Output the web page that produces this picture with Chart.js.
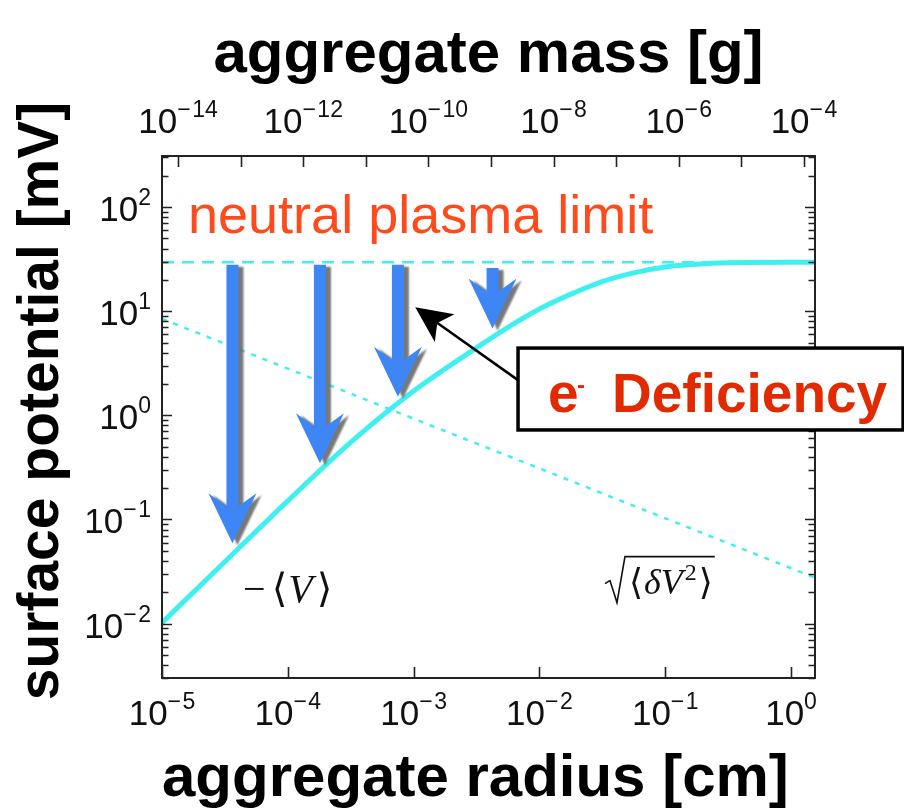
<!DOCTYPE html>
<html><head><meta charset="utf-8">
<script src="https://cdn.jsdelivr.net/npm/chart.js@4.4.1/dist/chart.umd.min.js"></script>
<style>html,body{margin:0;padding:0;background:#fff;}canvas{display:block;}</style>
</head><body>
<canvas id="c" width="904" height="812"></canvas>
<script>
// ---------- data ----------
const curveRadius = [1e-5, 3.16e-5, 1e-4, 3.16e-4, 1e-3, 3.16e-3, 5.62e-3, 1e-2, 1.78e-2, 3.16e-2, 5.62e-2, 1e-1, 1.78e-1, 3.16e-1, 1, 1.55];
const curveMeanV  = [0.0102, 0.0393, 0.151, 0.55, 1.71, 4.45, 7.0, 10.5, 14.6, 19.3, 23.4, 26.6, 28.3, 29.2, 29.5, 29.5];
const fluctRadius = [1e-5, 1e-4, 1e-3, 1e-2, 1e-1, 1, 1.55];
const fluctV      = [8.45, 2.81, 0.93, 0.309, 0.1026, 0.034, 0.0275];
const limitRadius = [1e-5, 1.55];
const limitV      = [29.5, 29.5];
const arrowRadius = [3.63e-5, 1.80e-4, 7.5e-4, 4.24e-3];
const arrowFromV  = [28, 28, 28, 26];
const arrowToV    = [0.059, 0.347, 1.51, 6.84];
const radiusTicks    = [1e-5, 1e-4, 1e-3, 1e-2, 1e-1, 1];
const potentialTicks = [1e-2, 1e-1, 1, 10, 100];
const massTicks      = [1e-14, 1e-13, 1e-12, 1e-11, 1e-10, 1e-9, 1e-8, 1e-7, 1e-6, 1e-5, 1e-4];
const radiusRange    = [1e-5, 1.55];
const potentialRange = [0.003, 310];
const massRange      = [5.55e-15, 1.5e-4];

const FONT = "'Liberation Sans', Arial, Helvetica, sans-serif";
const SERIF = "'Liberation Serif', 'DejaVu Serif', 'Times New Roman', serif";
const CYAN = '#40F0F0';
const BLUE = '#3E86F5';

const expOf = v => Math.round(Math.log10(v));
const expText = v => String(expOf(v)).replace('-', '\u2212');
const toXY = (xs, ys) => xs.map((x, i) => ({x, y: ys[i]}));

// annotation anchors (data coordinates)
const ANN = {
  limitText: {r: 1.61e-5, v: 56.1},
  meanText: {r: 4.41e-5, v: 0.01626},
  fluctText: {r: 0.0338, v: 0.0194},
  box: {r0: 6.76e-3, r1: 7.77, v0: 4.43, v1: 0.724},
  pointerTail: {r: 6.76e-3, v: 2.18},
  pointerTip: {r: 1.03e-3, v: 10.9}
};

// draws "10" with a raised exponent; align: 'center' | 'right'
function drawPow(ctx, v, ax, baseline, align) {
  const et = expText(v);
  ctx.font = '35px ' + FONT;
  const wb = ctx.measureText('10').width;
  ctx.font = '23px ' + FONT;
  const gap = et.length > 1 ? 1.5 : 0;
  const we = ctx.measureText(et).width + gap;
  const w = wb + we;
  const x0 = align === 'right' ? ax - w : ax - w / 2;
  ctx.textAlign = 'left'; ctx.textBaseline = 'alphabetic';
  ctx.font = '35px ' + FONT;
  ctx.fillText('10', x0, baseline);
  ctx.font = '23px ' + FONT;
  if (et.length > 1 && et[0] === '\u2212') {
    ctx.fillText('\u2212', x0 + wb, baseline - 16);
    ctx.fillText(et.slice(1), x0 + wb + ctx.measureText('\u2212').width + gap, baseline - 16);
  } else {
    ctx.fillText(et, x0 + wb, baseline - 16);
  }
}

const arrowsPlugin = {
  id: 'arrows',
  afterDatasetsDraw(chart) {
    const {ctx, scales: {x, y}} = chart;
    ctx.save();
    ctx.fillStyle = BLUE;
    ctx.shadowColor = 'rgba(105,105,105,0.9)';
    ctx.shadowOffsetX = 5; ctx.shadowOffsetY = 2; ctx.shadowBlur = 2;
    arrowRadius.forEach((r, i) => {
      const px = x.getPixelForValue(r);
      const y0 = y.getPixelForValue(arrowFromV[i]);
      const y1 = y.getPixelForValue(arrowToV[i]);
      const hw = 6, bw = 24, hl = 50, nl = 37;
      ctx.beginPath();
      ctx.moveTo(px - hw, y0); ctx.lineTo(px + hw, y0);
      ctx.lineTo(px + hw, y1 - nl); ctx.lineTo(px + bw, y1 - hl);
      ctx.lineTo(px, y1); ctx.lineTo(px - bw, y1 - hl);
      ctx.lineTo(px - hw, y1 - nl); ctx.closePath(); ctx.fill();
    });
    ctx.restore();
  }
};

const framePlugin = {
  id: 'frame',
  afterDraw(chart) {
    const {ctx, chartArea: {left, right, top, bottom}, scales: {x, y, x2}} = chart;
    ctx.save();
    ctx.strokeStyle = '#222';
    ctx.lineWidth = 1.6;
    ctx.beginPath();
    const lo = Math.floor(Math.log10(y.min)), hi = Math.ceil(Math.log10(y.max));
    for (let d = lo; d <= hi; d++) for (let k = 1; k <= 9; k++) {
      const v = k * Math.pow(10, d);
      if (v < y.min * 0.999 || v > y.max) continue;
      const py = Math.round(y.getPixelForValue(v)) + 0.5;
      const len = k === 1 ? 10 : 6.5;
      ctx.moveTo(left, py); ctx.lineTo(left + len, py);
      ctx.moveTo(right, py); ctx.lineTo(right - len, py);
    }
    radiusTicks.forEach(v => { const px = Math.round(x.getPixelForValue(v)) + 0.5; ctx.moveTo(px, bottom); ctx.lineTo(px, bottom - 11); });
    massTicks.forEach(v => { const px = Math.round(x2.getPixelForValue(v)) + 0.5; ctx.moveTo(px, top); ctx.lineTo(px, top + 11); });
    ctx.stroke();
    ctx.lineWidth = 2;
    ctx.strokeRect(left, top, right - left, bottom - top);

    // tick labels (positions from the library's scales)
    ctx.fillStyle = '#111';
    radiusTicks.forEach(v => drawPow(ctx, v, x.getPixelForValue(v), bottom + 47, 'center'));
    massTicks.forEach(v => { if (expOf(v) % 2 === 0) drawPow(ctx, v, x2.getPixelForValue(v), top - 23, 'center'); });
    potentialTicks.forEach(v => drawPow(ctx, v, left - 11, y.getPixelForValue(v) + 14, 'right'));

    // y-axis title
    ctx.fillStyle = '#000';
    ctx.font = 'bold 57px ' + FONT;
    ctx.textAlign = 'center'; ctx.textBaseline = 'alphabetic';
    ctx.save(); ctx.translate(58, 401); ctx.rotate(-Math.PI / 2);
    ctx.fillText('surface potential [mV]', 0, 0);
    ctx.restore();

    // neutral plasma limit
    ctx.fillStyle = '#FF4A1C';
    ctx.font = '54px ' + FONT; ctx.textAlign = 'left';
    ctx.fillText('neutral plasma limit', x.getPixelForValue(ANN.limitText.r), y.getPixelForValue(ANN.limitText.v));

    // math labels
    const drawSeq = (x0, base, parts) => {
      let cx = x0;
      parts.forEach(p => { ctx.font = p.f; ctx.fillText(p.t, cx, base + (p.dy || 0)); cx += ctx.measureText(p.t).width + (p.gap || 0); });
      return cx;
    };
    ctx.fillStyle = '#111';
    const mx = x.getPixelForValue(ANN.meanText.r), my = y.getPixelForValue(ANN.meanText.v);
    drawSeq(mx, my, [
      {t: '\u2212', f: '40px ' + SERIF, gap: 6},
      {t: '\u27E8', f: '40px ' + SERIF, gap: 1},
      {t: 'V', f: 'italic 40px ' + SERIF, gap: 4},
      {t: '\u27E9', f: '40px ' + SERIF}
    ]);
    const fx = x.getPixelForValue(ANN.fluctText.r), fy = y.getPixelForValue(ANN.fluctText.v);
    const sx = fx + 19;
    const ex = drawSeq(sx + 4, fy, [
      {t: '\u27E8', f: '36px ' + SERIF, gap: 1},
      {t: '\u03B4', f: 'italic 36px ' + SERIF},
      {t: 'V', f: 'italic 36px ' + SERIF, gap: 2},
      {t: '2', f: '24px ' + SERIF, dy: -14, gap: 2},
      {t: '\u27E9', f: '36px ' + SERIF}
    ]);
    ctx.strokeStyle = '#111'; ctx.lineWidth = 1.6; ctx.lineJoin = 'miter';
    ctx.beginPath();
    ctx.moveTo(fx - 1, fy - 10); ctx.lineTo(fx + 4, fy - 13);
    ctx.lineTo(fx + 11, fy + 9); ctx.lineTo(sx, fy - 37);
    ctx.lineTo(ex + 2, fy - 37);
    ctx.stroke();

    // pointer arrow
    const tx = x.getPixelForValue(ANN.pointerTail.r), ty = y.getPixelForValue(ANN.pointerTail.v);
    const hx = x.getPixelForValue(ANN.pointerTip.r), hy = y.getPixelForValue(ANN.pointerTip.v);
    const ang = Math.atan2(hy - ty, hx - tx), ux = Math.cos(ang), uy = Math.sin(ang);
    ctx.strokeStyle = '#000'; ctx.fillStyle = '#000'; ctx.lineWidth = 2.5;
    ctx.beginPath(); ctx.moveTo(tx, ty); ctx.lineTo(hx - ux * 25, hy - uy * 25); ctx.stroke();
    ctx.beginPath();
    ctx.moveTo(hx, hy);
    ctx.lineTo(hx - ux * 36 - uy * 17, hy - uy * 36 + ux * 17);
    ctx.lineTo(hx - ux * 27, hy - uy * 27);
    ctx.lineTo(hx - ux * 36 + uy * 17, hy - uy * 36 - ux * 17);
    ctx.closePath(); ctx.fill();

    // e- Deficiency box
    const bx0 = x.getPixelForValue(ANN.box.r0), bx1 = x.getPixelForValue(ANN.box.r1);
    const by0 = y.getPixelForValue(ANN.box.v0), by1 = y.getPixelForValue(ANN.box.v1);
    ctx.fillStyle = '#fff';
    ctx.fillRect(bx0, by0, bx1 - bx0, by1 - by0);
    ctx.lineWidth = 3.5; ctx.strokeStyle = '#000';
    ctx.strokeRect(bx0, by0, bx1 - bx0, by1 - by0);
    ctx.fillStyle = '#E22A00';
    ctx.font = 'bold 55px ' + FONT;
    const base = by0 + 64;
    ctx.fillText('e', bx0 + 30, base);
    ctx.font = 'bold 24px ' + FONT;
    ctx.fillText('-', bx0 + 59, base - 19);
    ctx.font = 'bold 55px ' + FONT;
    ctx.fillText('Deficiency', bx0 + 94, base);
    ctx.restore();
  }
};

new Chart(document.getElementById('c'), {
  type: 'line',
  data: {
    datasets: [
      {label: 'neutral plasma limit', data: toXY(limitRadius, limitV), borderColor: CYAN, borderWidth: 2.5, borderDash: [12, 8], pointRadius: 0},
      {label: 'sqrt(<dV^2>)', data: toXY(fluctRadius, fluctV), borderColor: CYAN, borderWidth: 2.5, borderDash: [5, 7], pointRadius: 0},
      {label: '-<V>', data: toXY(curveRadius, curveMeanV), borderColor: CYAN, borderWidth: 5, pointRadius: 0, cubicInterpolationMode: 'monotone'}
    ]
  },
  options: {
    responsive: false, animation: false, events: [],
    layout: {padding: {left: 0, right: 89, top: 0, bottom: 0}},
    plugins: {legend: {display: false}, tooltip: {enabled: false}},
    scales: {
      x: {
        type: 'logarithmic', position: 'bottom', min: radiusRange[0], max: radiusRange[1],
        afterFit: s => { s.height = 134; },
        afterBuildTicks: s => { s.ticks = radiusTicks.map(v => ({value: v})); },
        grid: {display: false, drawTicks: false}, border: {display: false},
        ticks: {display: false},
        title: {display: true, align: 'start', text: 'aggregate radius [cm]', color: '#000', font: {family: FONT, size: 60, weight: 'bold', lineHeight: 1}, padding: {top: 0, bottom: 3}}
      },
      x2: {
        type: 'logarithmic', position: 'top', min: massRange[0], max: massRange[1],
        afterFit: s => { s.height = 156; },
        afterBuildTicks: s => { s.ticks = massTicks.map(v => ({value: v})); },
        grid: {display: false, drawTicks: false}, border: {display: false},
        ticks: {display: false},
        title: {display: true, text: 'aggregate mass [g]', color: '#000', font: {family: FONT, size: 60, weight: 'bold', lineHeight: 1}, padding: {top: 25, bottom: 0}}
      },
      y: {
        type: 'logarithmic', position: 'left', min: potentialRange[0], max: potentialRange[1],
        afterFit: s => { s.width = 162; },
        afterBuildTicks: s => { s.ticks = potentialTicks.map(v => ({value: v})); },
        grid: {display: false, drawTicks: false}, border: {display: false},
        ticks: {display: false},
        title: {display: false}
      }
    }
  },
  plugins: [arrowsPlugin, framePlugin]
});
</script>
</body></html>
